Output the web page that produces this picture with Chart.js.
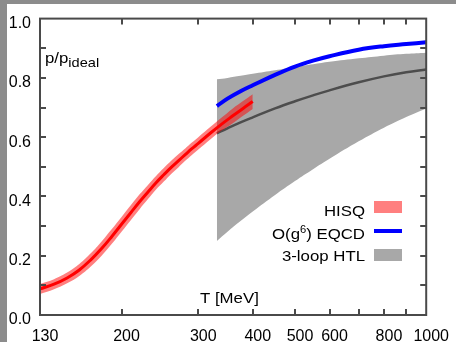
<!DOCTYPE html>
<html>
<head>
<meta charset="utf-8">
<script src="https://cdn.jsdelivr.net/npm/chart.js@4.4.1/dist/chart.umd.min.js"></script>
<style>
html, body { margin: 0; padding: 0; background: #fff; }
#wrap { position: relative; width: 456px; height: 342px; }
</style>
</head>
<body>
<div id="wrap"><canvas id="eos"></canvas></div>
<script>
// HISQ lattice band (T in MeV, p/p_ideal)
var hisqT    = [130, 140, 150, 160, 170, 180, 190, 200, 210, 220, 230, 240, 250, 260, 270, 280, 290, 300, 320, 340, 360, 380, 400];
var hisqMid  = [0.088, 0.104, 0.125, 0.152, 0.186, 0.224, 0.265, 0.306, 0.345, 0.382, 0.415, 0.446, 0.473, 0.498, 0.520, 0.541, 0.561, 0.579, 0.614, 0.645, 0.672, 0.697, 0.720];
var hisqLow  = [0.071, 0.087, 0.107, 0.132, 0.164, 0.200, 0.240, 0.281, 0.320, 0.357, 0.391, 0.423, 0.450, 0.476, 0.498, 0.520, 0.540, 0.558, 0.593, 0.623, 0.647, 0.672, 0.695];
var hisqHigh = [0.105, 0.121, 0.143, 0.172, 0.208, 0.248, 0.290, 0.331, 0.370, 0.407, 0.439, 0.469, 0.496, 0.520, 0.542, 0.562, 0.582, 0.600, 0.635, 0.667, 0.697, 0.722, 0.745];

// O(g^6) EQCD curve
var eqcdT = [331, 350, 375, 400, 450, 500, 550, 600, 700, 800, 900, 1000];
var eqcdP = [0.705, 0.730, 0.755, 0.775, 0.810, 0.838, 0.858, 0.873, 0.895, 0.907, 0.914, 0.920];

// 3-loop HTL band + central line
var htlT    = [331, 350, 375, 400, 450, 500, 550, 600, 700, 800, 900, 1000];
var htlMid  = [0.613, 0.630, 0.650, 0.667, 0.697, 0.721, 0.741, 0.758, 0.785, 0.805, 0.819, 0.828];
var htlLow  = [0.250, 0.281, 0.317, 0.349, 0.405, 0.452, 0.492, 0.527, 0.586, 0.632, 0.668, 0.697];
var htlHigh = [0.795, 0.800, 0.807, 0.814, 0.826, 0.837, 0.846, 0.854, 0.866, 0.875, 0.881, 0.885];

// axes
var xLabels = [130, 200, 300, 400, 500, 600, 800, 1000];
var xTickMarks = [200, 300, 400, 500, 600, 700, 800, 900];
var yTickMarks = [0.1, 0.2, 0.3, 0.4, 0.5, 0.6, 0.7, 0.8, 0.9];

var FONT = '"Liberation Sans", Arial, Helvetica, sans-serif';
var INK = '#000000';
var AXIS = '#4a4a4a';
var RED_BAND = 'rgba(255,0,0,0.5)';
var GRAY_BAND = '#a8a8a8';
var STRETCH = 1.12; // the original lettering is a bit wide

function pts(xs, ys) {
    return xs.map(function (x, i) { return { x: x, y: ys[i] }; });
}

// text drawn slightly widened, returns the width used
function wideText(ctx, str, x, y, size, align) {
    ctx.save();
    ctx.font = size + 'px ' + FONT;
    ctx.textAlign = align || 'left';
    ctx.translate(x, y);
    ctx.scale(STRETCH, 1);
    ctx.fillText(str, 0, 0);
    var w = ctx.measureText(str).width * STRETCH;
    ctx.restore();
    return w;
}

function textWidth(ctx, str, size) {
    ctx.save();
    ctx.font = size + 'px ' + FONT;
    var w = ctx.measureText(str).width * STRETCH;
    ctx.restore();
    return w;
}

// grey frame, box, inward ticks, legend and labels
var decor = {
    id: 'decor',
    beforeDraw: function (chart) {
        var ctx = chart.ctx;
        ctx.save();
        ctx.fillStyle = '#8c8c8c';
        ctx.fillRect(0, 0, chart.width, chart.height);
        ctx.fillStyle = '#ffffff';
        ctx.fillRect(7, 4, chart.width - 7, chart.height - 4);
        ctx.restore();
    },
    afterDatasetsDraw: function (chart) {
        var ctx = chart.ctx, a = chart.chartArea;
        var xs = chart.scales.x, ys = chart.scales.y;
        var tl = 6;
        ctx.save();
        ctx.strokeStyle = AXIS;
        ctx.lineWidth = 2;
        ctx.strokeRect(a.left, a.top, a.right - a.left, a.bottom - a.top);
        ctx.beginPath();
        xTickMarks.forEach(function (v) {
            var px = Math.round(xs.getPixelForValue(v));
            ctx.moveTo(px, a.bottom); ctx.lineTo(px, a.bottom - tl);
            ctx.moveTo(px, a.top); ctx.lineTo(px, a.top + tl);
        });
        yTickMarks.forEach(function (v) {
            var py = Math.round(ys.getPixelForValue(v));
            ctx.moveTo(a.left, py); ctx.lineTo(a.left + tl, py);
            ctx.moveTo(a.right, py); ctx.lineTo(a.right - tl, py);
        });
        ctx.stroke();
        ctx.restore();
    },
    afterDraw: function (chart) {
        var ctx = chart.ctx;
        ctx.save();
        ctx.fillStyle = INK;
        ctx.textBaseline = 'alphabetic';

        // y axis title p/p_ideal
        var w = wideText(ctx, 'p/p', 45, 63, 15);
        wideText(ctx, 'ideal', 45 + w, 67, 13);

        // x axis title
        wideText(ctx, 'T [MeV]', 200, 303, 15);

        // legend
        var tx = 365, sx = 374, sw = 28;
        wideText(ctx, 'HISQ', tx, 216, 15, 'right');
        ctx.fillStyle = RED_BAND;
        ctx.fillRect(sx, 201, sw, 12);

        ctx.fillStyle = INK;
        wideText(ctx, ') EQCD', tx, 239, 15, 'right');
        var w1 = textWidth(ctx, ') EQCD', 15);
        wideText(ctx, '6', tx - w1, 233, 10, 'right');
        var w2 = textWidth(ctx, '6', 10);
        wideText(ctx, 'O(g', tx - w1 - w2, 239, 15, 'right');
        ctx.strokeStyle = '#0000ff';
        ctx.lineWidth = 4;
        ctx.beginPath();
        ctx.moveTo(sx, 231); ctx.lineTo(sx + sw, 231);
        ctx.stroke();

        wideText(ctx, '3-loop HTL', tx, 261, 15, 'right');
        ctx.fillStyle = GRAY_BAND;
        ctx.fillRect(sx, 249, sw, 12);
        ctx.restore();
    }
};

new Chart(document.getElementById('eos'), {
    type: 'line',
    data: {
        datasets: [
            { data: pts(htlT, htlLow), borderWidth: 0, borderColor: 'transparent', fill: false, order: 20 },
            { data: pts(htlT, htlHigh), borderWidth: 0, borderColor: 'transparent', backgroundColor: GRAY_BAND, fill: '-1', order: 19 },
            { data: pts(htlT, htlMid), borderColor: '#4d4d4d', borderWidth: 2.5, fill: false, order: 18 },
            { data: pts(hisqT, hisqLow), borderWidth: 0, borderColor: 'transparent', fill: false, order: 17 },
            { data: pts(hisqT, hisqHigh), borderWidth: 0, borderColor: 'transparent', backgroundColor: RED_BAND, fill: '-1', order: 16 },
            { data: pts(hisqT, hisqMid), borderColor: '#ff0000', borderWidth: 3, fill: false, order: 15 },
            { data: pts(eqcdT, eqcdP), borderColor: '#0000ff', borderWidth: 4, fill: false, order: 14 }
        ]
    },
    options: {
        responsive: true,
        maintainAspectRatio: false,
        animation: false,
        events: [],
        layout: { padding: { top: 14, right: 24, left: 0, bottom: 0 } },
        elements: {
            point: { radius: 0 },
            line: { tension: 0.4, borderCapStyle: 'butt' }
        },
        plugins: {
            legend: { display: false },
            tooltip: { enabled: false }
        },
        scales: {
            x: {
                type: 'logarithmic',
                min: 130,
                max: 1000,
                grid: { display: false, drawTicks: false },
                border: { display: false },
                afterBuildTicks: function (s) {
                    s.ticks = xLabels.map(function (v) { return { value: v }; });
                },
                afterFit: function (s) { s.height = 27; },
                ticks: {
                    autoSkip: false,
                    maxRotation: 0,
                    padding: 12,
                    labelOffset: 5,
                    color: INK,
                    font: { family: FONT, size: 16 },
                    callback: function (v) { return String(v); }
                }
            },
            y: {
                min: 0,
                max: 1,
                grid: { display: false, drawTicks: false },
                border: { display: false },
                afterFit: function (s) { s.width = 40; },
                ticks: {
                    stepSize: 0.2,
                    padding: 9,
                    labelOffset: 5,
                    color: INK,
                    font: { family: FONT, size: 16 },
                    callback: function (v) { return v.toFixed(1); }
                }
            }
        }
    },
    plugins: [decor]
});
</script>
</body>
</html>
